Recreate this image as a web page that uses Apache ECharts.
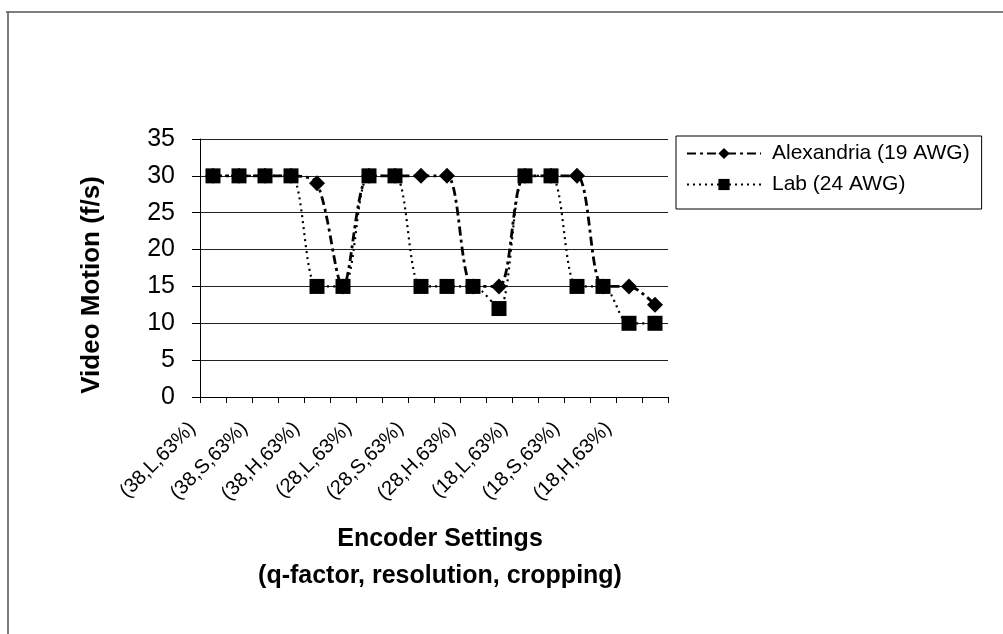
<!DOCTYPE html>
<html>
<head>
<meta charset="utf-8">
<script src="https://cdn.jsdelivr.net/npm/echarts@6/dist/echarts.min.js"></script>
<style>
html,body{margin:0;padding:0;background:#fff;}
#chart{width:1003px;height:634px;}
</style>
</head>
<body>
<div id="chart"></div>
<script>
var categories = ["(38,L,63%)","(38,L,100%)","(38,S,63%)","(38,S,100%)","(38,H,63%)","(38,H,100%)",
                  "(28,L,63%)","(28,L,100%)","(28,S,63%)","(28,S,100%)","(28,H,63%)","(28,H,100%)",
                  "(18,L,63%)","(18,L,100%)","(18,S,63%)","(18,S,100%)","(18,H,63%)","(18,H,100%)"];
var alexandria = [30,30,30,30,29,15,30,30,30,30,15,15,30,30,30,15,15,12.5];
var lab        = [30,30,30,30,15,15,30,30,15,15,15,12,30,30,15,15,10,10];
var yTicks = [0,5,10,15,20,25,30,35];

var chart = echarts.init(document.getElementById('chart'), null, {renderer:'canvas'});
var font = "Liberation Sans, Arial, sans-serif";
chart.setOption({
  backgroundColor:'#fff',
  animation:false,
  graphic:[
    {type:'line', shape:{x1:6,y1:12,x2:1003,y2:12}, style:{stroke:'#555',lineWidth:1.5}},
    {type:'line', shape:{x1:8,y1:12,x2:8,y2:634}, style:{stroke:'#555',lineWidth:1.5}}
  ],
  grid:{left:200, top:139, width:468, height:258, containLabel:false},
  legend:{
    orient:'vertical', left:676, top:136,
    itemWidth:74, itemHeight:14, itemGap:10,
    borderColor:'#000', borderWidth:1, padding:[7,12,14,10],
    textStyle:{fontFamily:font, fontSize:21, color:'#000', padding:[0,0,0,6]},
    data:['Alexandria (19 AWG)','Lab (24 AWG)']
  },
  xAxis:{
    type:'category', data:categories, boundaryGap:true,
    axisLine:{lineStyle:{color:'#000',width:1}},
    axisTick:{show:true, length:6, interval:0, lineStyle:{color:'#000'}},
    axisLabel:{interval:1, rotate:45, fontFamily:font, fontSize:20, color:'#000', margin:8, padding:[0,29,0,0]},
    name:'Encoder Settings\n(q-factor, resolution, cropping)',
    nameLocation:'middle', nameGap:124,
    nameTextStyle:{fontFamily:font, fontSize:25, fontWeight:'bold', color:'#000', lineHeight:37, padding:[0,0,0,12]}
  },
  yAxis:{
    type:'value', min:0, max:35, interval:5,
    axisLine:{show:true, lineStyle:{color:'#000',width:1}},
    axisTick:{show:true, length:8, lineStyle:{color:'#000'}},
    axisLabel:{fontFamily:font, fontSize:25, color:'#000', margin:25,
      formatter:function(v){ return yTicks.indexOf(v) >= 0 ? String(v) : ''; }},
    splitLine:{show:true, lineStyle:{color:'#222', width:1}},
    name:'Video Motion (f/s)', nameLocation:'middle', nameGap:95,
    nameTextStyle:{fontFamily:font, fontSize:26, fontWeight:'bold', color:'#000', padding:[0,34,0,0]}
  },
  series:[
    {
      name:'Alexandria (19 AWG)', type:'line', data:alexandria, smooth:0.3,
      symbol:'diamond', symbolSize:[16,16],
      itemStyle:{color:'#000'},
      lineStyle:{color:'#000', width:2.8, type:[9,4,3,4]}
    },
    {
      name:'Lab (24 AWG)', type:'line', data:lab, smooth:0.3,
      symbol:'rect', symbolSize:[15,15],
      itemStyle:{color:'#000'},
      lineStyle:{color:'#000', width:2.2, type:[2,4]}
    }
  ]
});
</script>
</body>
</html>
